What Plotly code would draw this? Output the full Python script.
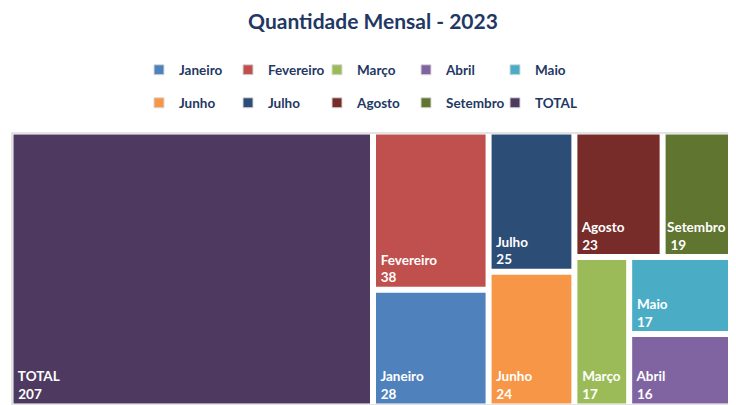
import plotly.graph_objects as go

# ---- dados ----
meses = ["Janeiro", "Fevereiro", "Março", "Abril", "Maio",
         "Junho", "Julho", "Agosto", "Setembro", "TOTAL"]
quantidades = [28, 38, 17, 16, 17, 24, 25, 23, 19, 207]
cores = ["#4F81BD", "#C0504D", "#9BBB59", "#8064A2", "#4BACC6",
         "#F79646", "#2C4D75", "#772C2A", "#5F7530", "#4E3A61"]

# ---- blocos de disposição (como o Excel organizou o mapa de árvore) ----
nos_ordem = ["raiz", "TOTAL", "c1", "c2", "c3",
             "Fevereiro", "Janeiro", "Julho", "Junho",
             "c3a", "c3b", "Agosto", "Setembro", "Março", "c3b2", "Maio", "Abril"]
nos_pai = ["", "raiz", "raiz", "raiz", "raiz",
           "c1", "c1", "c2", "c2",
           "c3", "c3", "c3a", "c3a", "c3b", "c3b", "c3b2", "c3b2"]

valor = dict(zip(meses, quantidades))
cor = dict(zip(meses, cores))

NB = "\u00a0"
ids, parents, values, colors, texts, lw, labels = [], [], [], [], [], [], []
for n, p in zip(nos_ordem, nos_pai):
    ids.append(n)
    parents.append(p)
    if n in valor:
        labels.append(n)
        values.append(valor[n])
        colors.append(cor[n])
        pre = "" if n == "Setembro" else NB
        texts.append(f"{pre}{n}<br>{NB}{valor[n]}")
        lw.append(3)
    else:
        labels.append("")
        values.append(0)
        colors.append("white" if p == "" else "rgba(0,0,0,0)")
        texts.append("")
        lw.append(0)

fig = go.Figure()
fig.add_trace(go.Treemap(
    ids=ids, parents=parents, labels=labels, values=values,
    branchvalues="remainder", sort=False,
    text=texts, textinfo="text", textposition="bottom left",
    tiling=dict(packing="slice-dice"),
    marker=dict(colors=colors, line=dict(color="white", width=lw),
                pad=dict(t=0, l=0, r=0, b=0)),
    textfont=dict(family="Lato", size=13.5, color="white", weight="bold"),
    pathbar=dict(visible=False),
    hoverinfo="label+value",
))

# legenda (duas linhas de cinco itens)
for i, (m, c) in enumerate(zip(meses, cores)):
    fig.add_trace(go.Scatter(
        x=[None], y=[None], mode="markers", name=m,
        marker=dict(symbol="square", size=10, color=c,
                    line=dict(color="#D9D9D9", width=1)),
        legend="legend" if i < 5 else "legend2",
        showlegend=True,
    ))

W, H = 736, 405
ML, MR, MT, MB = 4, 10, 125, 8
PH = H - MT - MB

leg_common = dict(orientation="h", xref="paper", x=(131 - ML) / (W - ML - MR), xanchor="left",
                  yref="paper", yanchor="middle", entrywidth=44, entrywidthmode="pixels",
                  font=dict(family="Lato", size=13.5, color="#1F3864", weight="bold"),
                  bgcolor="rgba(0,0,0,0)", itemclick=False, itemdoubleclick=False)

fig.update_layout(
    width=W, height=H,
    margin=dict(l=ML, r=MR, t=MT, b=MB, autoexpand=False),
    paper_bgcolor="white", plot_bgcolor="rgba(0,0,0,0)",
    title=dict(text="Quantidade Mensal - 2023", x=0.5, xref="paper",
               y=1 - 14 / H, yanchor="middle",
               font=dict(family="Lato", size=21, color="#1F3864", weight="bold")),
    xaxis=dict(visible=False), yaxis=dict(visible=False),
    legend=dict(**leg_common, y=(H - MB - 62) / PH),
    legend2=dict(**leg_common, y=(H - MB - 95) / PH),
    shapes=[dict(type="rect", xref="paper", yref="paper", x0=0, x1=1, y0=0, y1=1.0,
                 line=dict(color="#C8C8C8", width=1), layer="above")],
)

fig.write_html("out.html")
